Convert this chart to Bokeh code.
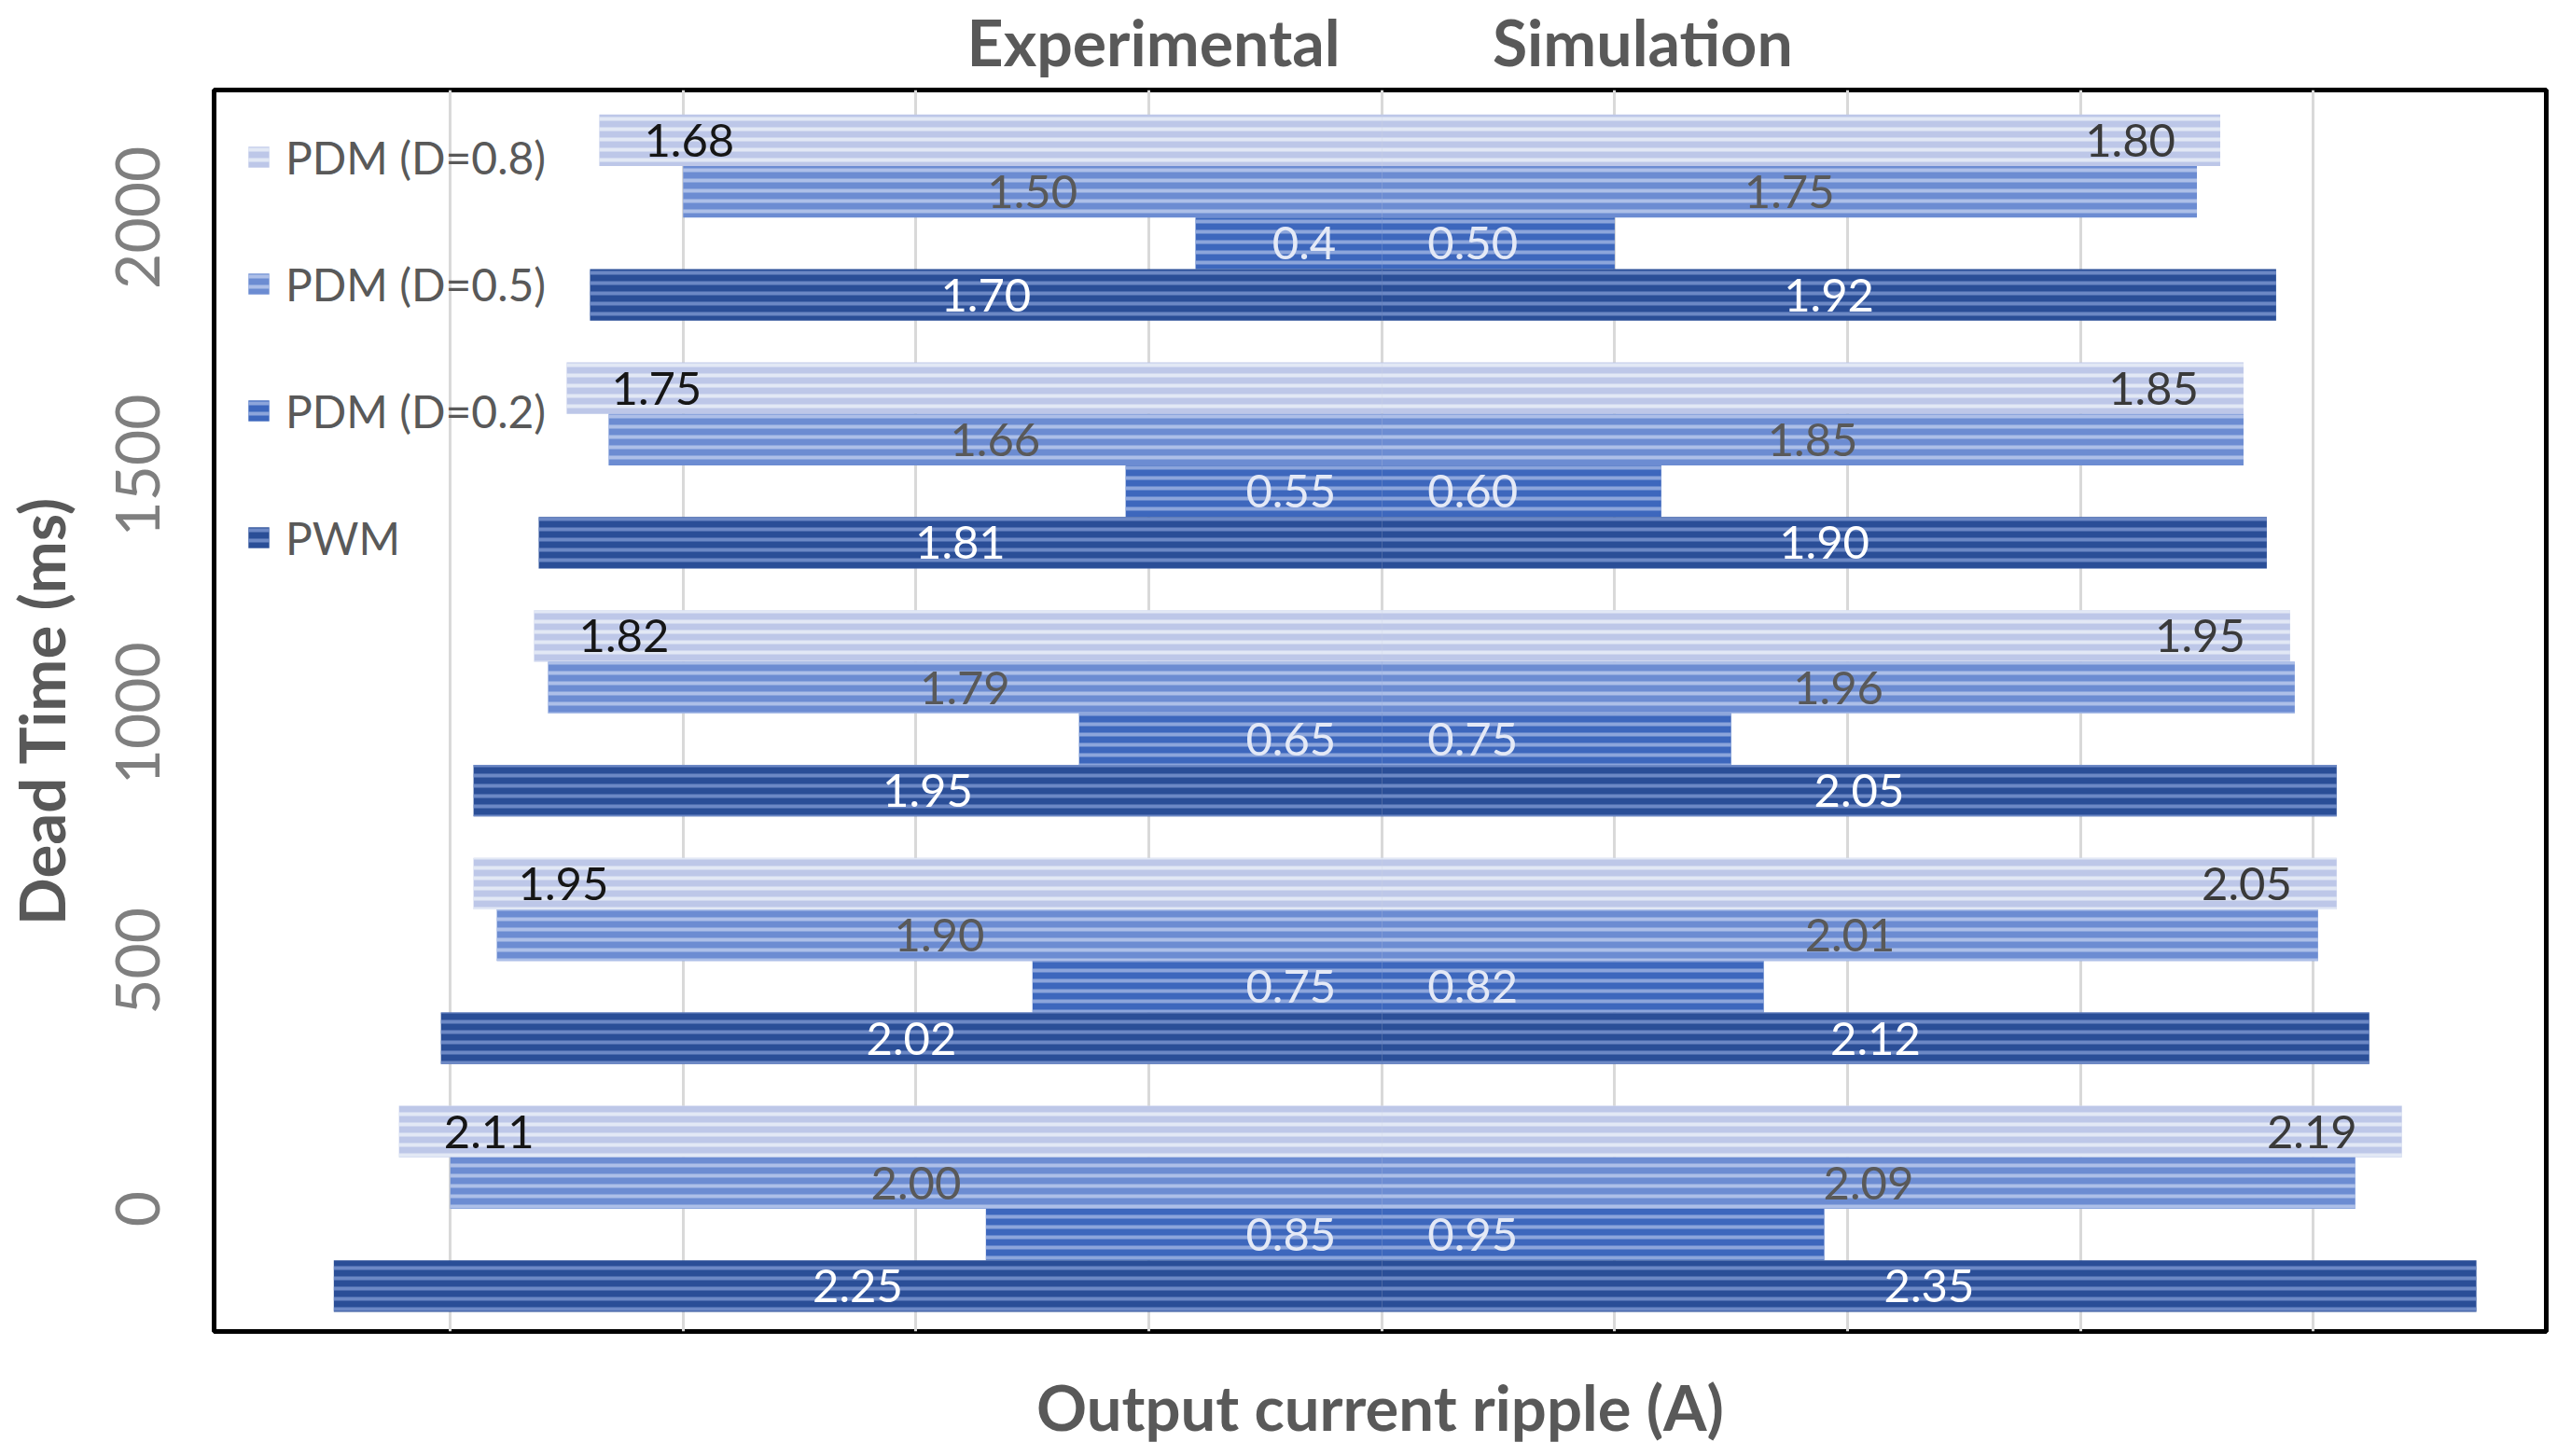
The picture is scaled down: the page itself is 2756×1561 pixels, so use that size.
import numpy as np
from bokeh.plotting import figure
from bokeh.models import (ColumnDataSource, FixedTicker, LinearAxis, Range1d,
                          Legend, LegendItem)
from bokeh.core.properties import value
from bokeh.embed import file_html
from bokeh.resources import INLINE

# ---------------- data ----------------
dead_time_labels = ["0", "500", "1000", "1500", "2000"]
series_names = ["PDM (D=0.8)", "PDM (D=0.5)", "PDM (D=0.2)", "PWM"]

exp_d08 = [2.11, 1.95, 1.82, 1.75, 1.68]
exp_d05 = [2.00, 1.90, 1.79, 1.66, 1.50]
exp_d02 = [0.85, 0.75, 0.65, 0.55, 0.40]
exp_pwm = [2.25, 2.02, 1.95, 1.81, 1.70]

sim_d08 = [2.19, 2.05, 1.95, 1.85, 1.80]
sim_d05 = [2.09, 2.01, 1.96, 1.85, 1.75]
sim_d02 = [0.95, 0.82, 0.75, 0.60, 0.50]
sim_pwm = [2.35, 2.12, 2.05, 1.90, 1.92]

exp_d02_labels = ["0.85", "0.75", "0.65", "0.55", "0.4"]

grid_ticks = [-2.0, -1.5, -1.0, -0.5, 0.0, 0.5, 1.0, 1.5, 2.0]
side_titles = ["Experimental", "Simulation"]
side_title_pos = [-0.49, 0.56]

# ---------------- styles ----------------
FONT = "Lato"
fills = ["#bdc7e8", "#6c8cd2", "#3d67bd", "#2a4e97"]
hatches = ["#e9edf7", "#b9c8ec", "#9ab0e0", "#7892cc"]
exp_label_colors = ["#161616", "#595959", "#e4e9f6", "#ffffff"]
sim_label_colors = ["#3a3a3a", "#595959", "#e4e9f6", "#ffffff"]
label_modes = ["outer", "center", "inner", "center"]

h = 0.208
offsets = [1.5 * h, 0.5 * h, -0.5 * h, -1.5 * h]

exp_all = [exp_d08, exp_d05, exp_d02, exp_pwm]
sim_all = [sim_d08, sim_d05, sim_d02, sim_pwm]

p = figure(width=2740, height=1550, output_backend="svg", toolbar_location=None,
           x_range=Range1d(-2.507, 2.500), y_range=Range1d(-0.495, 4.515),
           min_border_left=224, min_border_right=11, min_border_top=85,
           min_border_bottom=123)

p.outline_line_color = "black"
p.outline_line_width = 5
p.background_fill_color = "white"
p.border_fill_color = "white"

# grid
p.xgrid.ticker = FixedTicker(ticks=grid_ticks)
p.xgrid.grid_line_color = "#d9d9d9"
p.xgrid.grid_line_width = 3
p.ygrid.visible = False

# bottom axis (title only)
p.xaxis.ticker = FixedTicker(ticks=[])
p.xaxis.axis_line_color = None
p.xaxis.major_tick_line_color = None
p.xaxis.minor_tick_line_color = None
p.xaxis.axis_label = "Output current ripple (A)"
p.xaxis.axis_label_text_font = FONT
p.xaxis.axis_label_text_font_style = "bold"
p.xaxis.axis_label_text_font_size = "67px"
p.xaxis.axis_label_text_color = "#595959"
p.xaxis.axis_label_standoff = 40

# left axis
p.yaxis.ticker = FixedTicker(ticks=[0, 1, 2, 3, 4])
p.yaxis.major_label_overrides = {i: lab for i, lab in enumerate(dead_time_labels)}
p.yaxis.major_label_orientation = "vertical"
p.yaxis.axis_line_color = None
p.yaxis.major_tick_line_color = None
p.yaxis.minor_tick_line_color = None
p.yaxis.major_tick_out = 0
p.yaxis.major_label_text_font = FONT
p.yaxis.major_label_text_font_size = "66px"
p.yaxis.major_label_text_color = "#7f7f7f"
p.yaxis.major_label_standoff = 58
p.yaxis.axis_label = "Dead Time (ms)"
p.yaxis.axis_label_text_font = FONT
p.yaxis.axis_label_text_font_style = "bold"
p.yaxis.axis_label_text_font_size = "67px"
p.yaxis.axis_label_text_color = "#595959"
p.yaxis.axis_label_standoff = 38

# top axis with side titles
top = LinearAxis(ticker=FixedTicker(ticks=side_title_pos),
                 major_label_overrides={v: t for v, t in zip(side_title_pos, side_titles)})
top.axis_line_color = None
top.major_tick_line_color = None
top.minor_tick_line_color = None
top.major_tick_out = 0
top.major_label_text_font = FONT
top.major_label_text_font_style = "bold"
top.major_label_text_font_size = "68px"
top.major_label_text_color = "#595959"
top.major_label_standoff = 12
p.add_layout(top, "above")

legend_items = []
idx = np.arange(len(dead_time_labels))
for k in range(4):
    ys = idx + offsets[k]
    ev = np.array(exp_all[k])
    sv = np.array(sim_all[k])
    src_e = ColumnDataSource(dict(y=ys, left=-ev, right=np.zeros_like(ev)))
    src_s = ColumnDataSource(dict(y=ys, left=np.zeros_like(sv), right=sv))
    style = dict(height=h, fill_color=fills[k], line_color=None,
                 hatch_pattern="horizontal_line", hatch_color=hatches[k],
                 hatch_alpha=0.85, hatch_scale=11, hatch_weight=4)
    r_e = p.hbar(y="y", left="left", right="right", source=src_e, **style)
    p.hbar(y="y", left="left", right="right", source=src_s, **style)
    legend_items.append(LegendItem(label=series_names[k], renderers=[r_e]))

    # data labels
    if k == 2:
        etxt = exp_d02_labels
    else:
        etxt = ["%.2f" % v for v in ev]
    stxt = ["%.2f" % v for v in sv]
    mode = label_modes[k]
    if mode == "outer":
        ex, ea, eo = -ev, "left", 48
        sx, sa, so = sv, "right", -48
    elif mode == "inner":
        ex, ea, eo = np.zeros_like(ev), "right", -49
        sx, sa, so = np.zeros_like(sv), "left", 49
    else:
        ex, ea, eo = -ev / 2.0, "center", 0
        sx, sa, so = sv / 2.0, "center", 0
    p.text(x=ex, y=ys, text=etxt, text_align=ea, text_baseline="middle",
           x_offset=eo, text_font=value(FONT), text_font_size="49px",
           text_color=exp_label_colors[k])
    p.text(x=sx, y=ys, text=stxt, text_align=sa, text_baseline="middle",
           x_offset=so, text_font=value(FONT), text_font_size="49px",
           text_color=sim_label_colors[k])

legend = Legend(items=legend_items, location="top_left")
legend.border_line_color = None
legend.background_fill_alpha = 0
legend.label_text_font = FONT
legend.label_text_font_size = "48px"
legend.label_text_color = "#595959"
legend.glyph_width = 28
legend.glyph_height = 28
legend.label_standoff = 15
legend.padding = 0
legend.margin = 34
legend.label_height = 76
legend.spacing = 60
p.add_layout(legend, "center")

open("out.html", "w").write(file_html(p, INLINE))
